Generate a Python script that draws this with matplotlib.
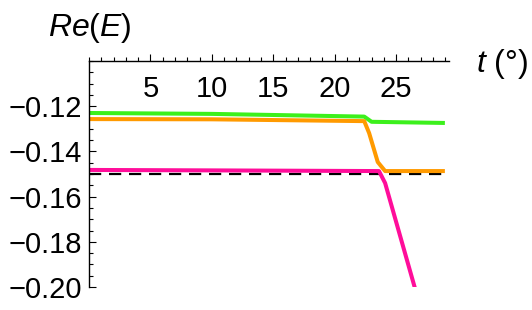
import matplotlib
matplotlib.use("Agg")
import matplotlib.pyplot as plt
from matplotlib.ticker import MultipleLocator

plt.rcParams['font.family'] = ['Liberation Sans', 'DejaVu Sans']
plt.rcParams['mathtext.fontset'] = 'custom'
plt.rcParams['mathtext.it'] = 'Liberation Sans:italic'
plt.rcParams['mathtext.rm'] = 'Liberation Sans'

t_green = [0, 10, 22.4, 23.0, 28.8]
e_green = [-0.1230, -0.1234, -0.1246, -0.1269, -0.1274]

t_orange = [0, 10, 22.4, 22.8, 23.5, 24.1, 28.8]
e_orange = [-0.1257, -0.1258, -0.1266, -0.1319, -0.1447, -0.1487, -0.1487]

t_pink = [0, 10, 23.6, 24.1, 26.5, 27.0]
e_pink = [-0.1482, -0.1484, -0.1487, -0.1540, -0.2000, -0.2096]

t_ref = [0, 28.8]
e_ref = [-0.15, -0.15]

xticks = [5, 10, 15, 20, 25]
yticks = [-0.12, -0.14, -0.16, -0.18, -0.20]

fig = plt.figure(figsize=(5.32, 3.10), dpi=100)
ax = fig.add_axes([0.1673, 0.0742, 0.6767, 0.729])

ax.plot(t_ref, e_ref, color='black', lw=1.6, dashes=(5.5, 3.5))
ax.plot(t_green, e_green, color='#3cf01c', lw=2.9, solid_joinstyle='round')
ax.plot(t_orange, e_orange, color='#ff9a00', lw=2.9, solid_joinstyle='round')
ax.plot(t_pink, e_pink, color='#ff0d9a', lw=2.9, solid_joinstyle='round')

ax.set_xlim(0, 29.3)
ax.set_ylim(-0.20, -0.10)

ax.spines['right'].set_visible(False)
ax.spines['top'].set_visible(False)
ax.spines['bottom'].set_position(('data', -0.10))
for s in ('left', 'bottom'):
    ax.spines[s].set_linewidth(1.0)

ax.set_xticks(xticks)
ax.set_xticklabels([str(v) for v in xticks])
ax.xaxis.set_minor_locator(MultipleLocator(1))
ax.set_yticks(yticks)
ax.set_yticklabels(['\u2212%.2f' % abs(v) for v in yticks])
ax.yaxis.set_minor_locator(MultipleLocator(0.005))

ax.tick_params(axis='x', which='major', direction='in', length=5, width=0.8,
               pad=10, labelsize=21)
ax.tick_params(axis='x', which='minor', direction='in', length=3, width=0.8)
ax.tick_params(axis='y', which='major', direction='in', length=5, width=0.8,
               pad=5, labelsize=21)
ax.tick_params(axis='y', which='minor', direction='in', length=3, width=0.8)

fig.text(0.168, 0.91, r'$Re$(${E}$)', fontsize=23, ha='center', va='center')
fig.text(0.943, 0.795, r'$t$ (°)', fontsize=23, ha='center', va='center')

fig.savefig('out.png', dpi=100)
